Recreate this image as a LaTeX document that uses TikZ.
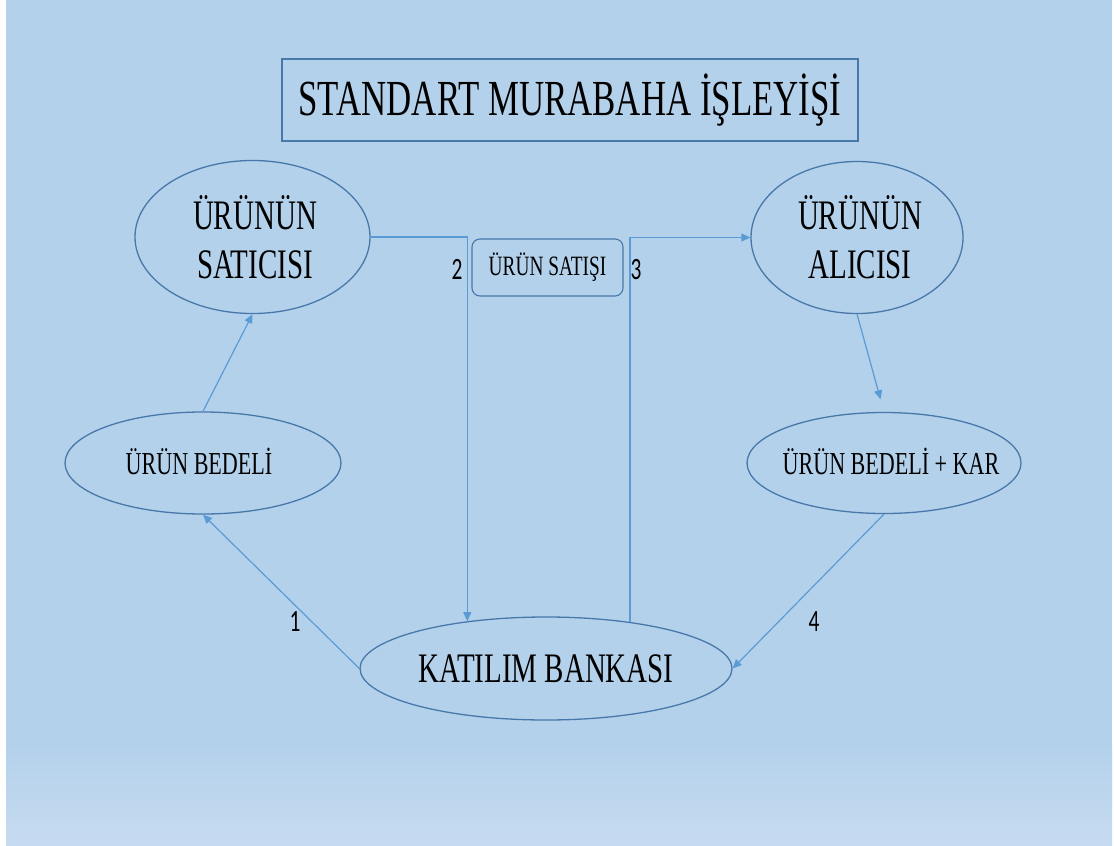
\documentclass[tikz,border=0pt]{standalone}
\usepackage{fontspec}
\setmainfont{Liberation Serif}[FakeStretch=0.69]
\newfontfamily\numfont{Carlito}[FakeStretch=0.69]
\usetikzlibrary{shapes.geometric,arrows.meta}
\definecolor{bg}{RGB}{180,209,235}
\definecolor{bgl}{RGB}{198,219,240}
\definecolor{edge}{RGB}{72,120,170}
\definecolor{conn}{RGB}{91,155,213}
\tikzset{
  ell/.style={ellipse, draw=edge, line width=1.3pt, inner sep=0pt},
  arr/.style={draw=conn, line width=1.2pt, -{Triangle[length=9pt,width=8pt]}},
  num/.style={font=\numfont\fontsize{31}{31}\selectfont, inner sep=0pt},
  big/.style={font=\fontsize{42}{49}\selectfont, align=center},
  mid/.style={font=\fontsize{32}{32}\selectfont}
}
\begin{document}
\begin{tikzpicture}[x=1pt,y=-1pt]
\useasboundingbox (0,0) rectangle (1114,846);
\fill[white] (0,0) rectangle (1114,846);
\fill[bg] (6,0) rectangle (1112,746);
\shade[top color=bg,bottom color=bgl] (6,745) rectangle (1112,845);

\node[draw=edge, line width=1.3pt, minimum width=576pt, minimum height=82pt, inner sep=0pt,
      font=\fontsize{50.5}{50.5}\selectfont] (title) at (570,100) {STANDART MURABAHA İŞLEYİŞİ};

\node[ell, big, minimum width=235pt, minimum height=153pt] (satici) at (252.5,237)
  {\makebox[0pt]{\hspace*{5pt}ÜRÜNÜN}\\\makebox[0pt]{\hspace*{5pt}SATICISI}};
\node[ell, big, minimum width=212pt, minimum height=152pt] (alici) at (857,237.5)
  {\makebox[0pt]{\hspace*{6pt}ÜRÜNÜN}\\\makebox[0pt]{\hspace*{6pt}ALICISI}};
\node[ell, mid, minimum width=276pt, minimum height=102pt] (bedeli) at (203,463)
  {\raisebox{4pt}{\makebox[0pt]{\hspace*{-8pt}ÜRÜN BEDELİ}}};
\node[ell, mid, minimum width=274pt, minimum height=101pt] (bedelikar) at (884,463)
  {\raisebox{3pt}{\makebox[0pt]{\hspace*{14pt}ÜRÜN BEDELİ + KAR}}};
\node[ell, font=\fontsize{42}{42}\selectfont, minimum width=372pt, minimum height=103pt] (katilim) at (546,668.5)
  {\makebox[0pt]{KATILIM BANKASI}};

\node[draw=edge, line width=1.1pt, rounded corners=8pt, minimum width=151pt, minimum height=57pt,
      inner sep=0pt, font=\fontsize{28}{28}\selectfont] (satis) at (547.5,267.5) {ÜRÜN SATIŞI};

\draw[arr] (satici.east) -| (katilim.149);
\draw[arr] (katilim.29) |- (alici.west);
\draw[arr] (bedeli.north) -- (satici.south);
\draw[arr] (katilim.west) -- (bedeli.south);
\draw[arr, shorten >=13pt] (alici.south) -- (bedelikar.north);
\draw[arr] (bedelikar.south) -- (katilim.east);

\node[num] (n1) at (295,622) {1};
\node[num] (n2) at (457,269) {2};
\node[num] (n3) at (636,270) {3};
\node[num] (n4) at (814,622) {4};
\end{tikzpicture}
\end{document}
